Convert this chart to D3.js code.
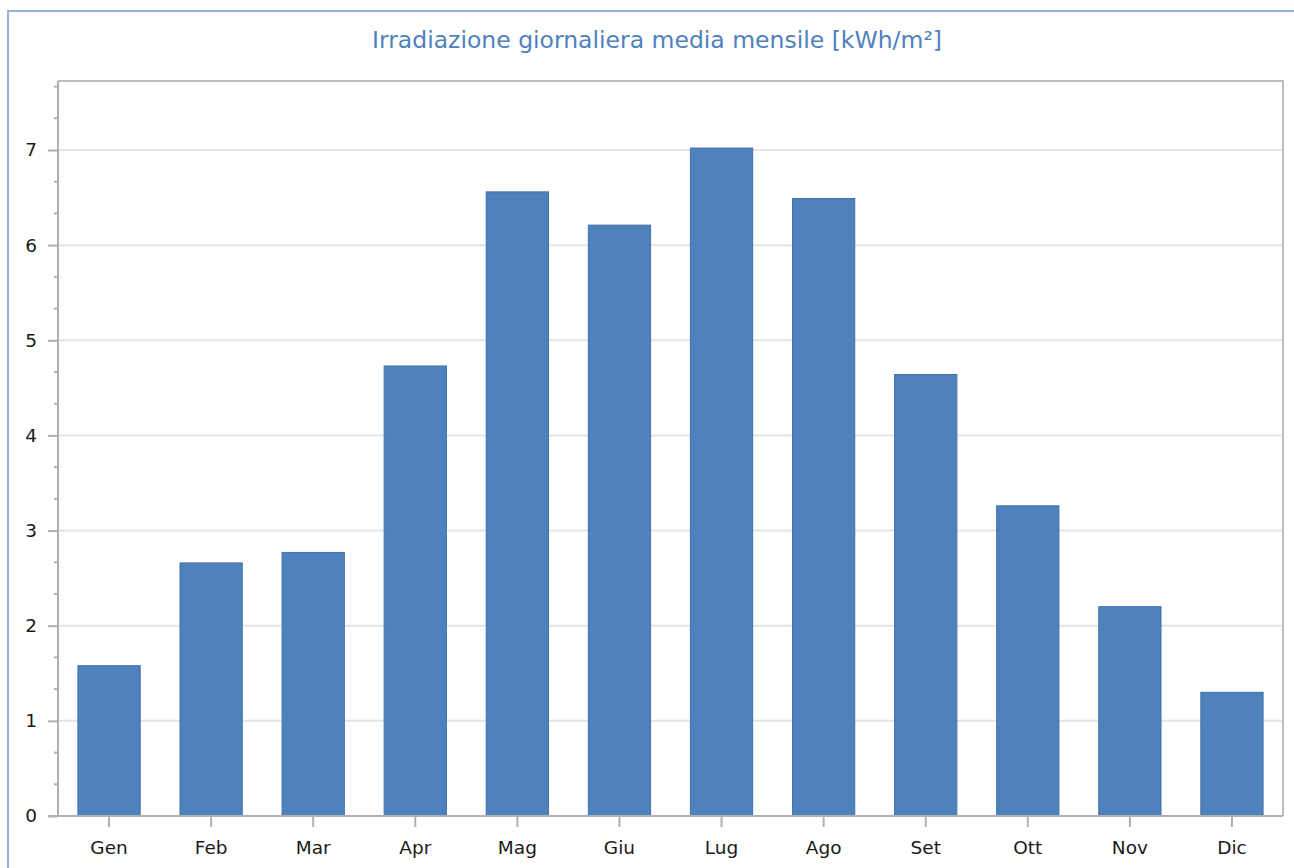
<!DOCTYPE html>
<html>
<head>
<meta charset="utf-8">
<script src="https://cdn.jsdelivr.net/npm/d3@7"></script>
<style>
  html, body { margin: 0; padding: 0; background: #fff; }
  svg { display: block; }
</style>
</head>
<body>
<div id="chart"></div>
<script>
// Monthly data
const months = ["Gen", "Feb", "Mar", "Apr", "Mag", "Giu", "Lug", "Ago", "Set", "Ott", "Nov", "Dic"];
const irradiation = [1.58, 2.66, 2.77, 4.73, 6.56, 6.21, 7.02, 6.49, 4.64, 3.26, 2.20, 1.30];
const yTicks = [0, 1, 2, 3, 4, 5, 6, 7];
const titleText = "Irradiazione giornaliera media mensile [kWh/m²]";

const width = 1294;
const height = 868;
const plot = { left: 58, top: 81, right: 1283, bottom: 816 };
const fontFamily = "'DejaVu Sans', Tahoma, sans-serif";

const svg = d3.select("#chart")
    .append("svg")
    .attr("width", width)
    .attr("height", height);

// Outer frame of the chart control
svg.append("rect")
    .attr("x", 8)
    .attr("y", 11)
    .attr("width", width + 20)
    .attr("height", height + 20)
    .attr("fill", "#fff")
    .attr("stroke", "#95b3d7")
    .attr("stroke-width", 2);

// Title
svg.append("text")
    .attr("x", 657)
    .attr("y", 48)
    .attr("text-anchor", "middle")
    .attr("fill", "#4f81bd")
    .attr("font-family", fontFamily)
    .attr("font-size", 23.5)
    .text(titleText);

const x = d3.scaleBand()
    .domain(months)
    .range([plot.left, plot.right])
    .paddingInner(0.39)
    .paddingOuter(0.195);

const y = d3.scaleLinear()
    .domain([0, 7.725])
    .range([plot.bottom, plot.top]);

// Gridlines
svg.append("g")
    .selectAll("line")
    .data(yTicks.filter(d => d > 0))
    .join("line")
    .attr("x1", plot.left)
    .attr("x2", plot.right)
    .attr("y1", d => y(d))
    .attr("y2", d => y(d))
    .attr("stroke", "#e4e4e4")
    .attr("stroke-width", 2);

// Plot border (top and right)
svg.append("path")
    .attr("d", `M${plot.left},${plot.top}H${plot.right}V${plot.bottom}`)
    .attr("fill", "none")
    .attr("stroke", "#bdbdbd")
    .attr("stroke-width", 2);

// Bars
svg.append("g")
    .selectAll("rect")
    .data(months.map((m, i) => ({ month: m, value: irradiation[i] })))
    .join("rect")
    .attr("x", d => x(d.month))
    .attr("y", d => y(d.value))
    .attr("width", x.bandwidth())
    .attr("height", d => y(0) - y(d.value))
    .attr("fill", "#4f81bd")
    .attr("stroke", "#4272aa")
    .attr("stroke-width", 1);

// Y axis
const yAxis = svg.append("g")
    .attr("transform", `translate(${plot.left},0)`)
    .call(d3.axisLeft(y).tickValues(yTicks).tickSize(10).tickPadding(11).tickFormat(d3.format("d")));

// Minor ticks
svg.append("g")
    .selectAll("line")
    .data(d3.range(0, 7.7, 1 / 3).filter((d, i) => i % 3 !== 0))
    .join("line")
    .attr("x1", plot.left - 4)
    .attr("x2", plot.left)
    .attr("y1", d => y(d))
    .attr("y2", d => y(d))
    .attr("stroke", "#b0b0b0")
    .attr("stroke-width", 2);

// X axis
const xAxis = svg.append("g")
    .attr("transform", `translate(0,${plot.bottom})`)
    .call(d3.axisBottom(x).tickSize(11).tickPadding(14));

[yAxis, xAxis].forEach(ax => {
    ax.select(".domain").attr("stroke", "#b0b0b0").attr("stroke-width", 2);
    ax.selectAll(".tick line").attr("stroke", "#b0b0b0").attr("stroke-width", 2);
    ax.selectAll(".tick text")
        .attr("fill", "#1a1a1a")
        .attr("font-family", fontFamily)
        .attr("font-size", 18.5);
});
yAxis.select(".domain").attr("d", `M-10,${plot.bottom}H0V${plot.top}`);
xAxis.select(".domain").attr("d", `M${plot.left - 10},0H${plot.right}`);
</script>
</body>
</html>
